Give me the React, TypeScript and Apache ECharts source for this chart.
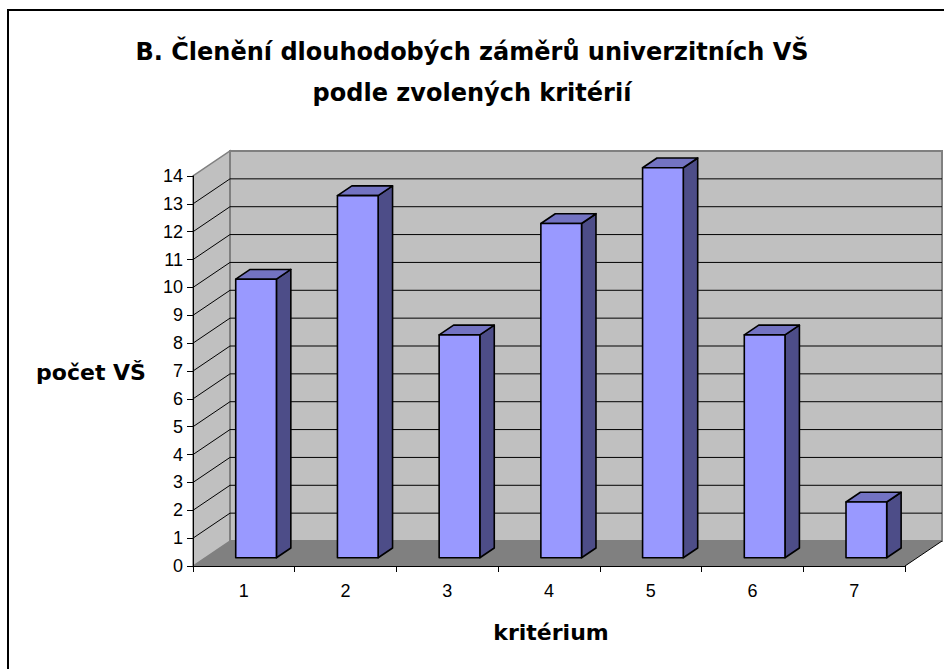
import React, { useEffect, useRef } from 'react';
import * as echarts from 'echarts';

// ---- data ----
const categories: string[] = ['1', '2', '3', '4', '5', '6', '7'];
const values: number[] = [10, 13, 8, 12, 14, 8, 2];
const yMin = 0;
const yMax = 14;
const yInterval = 1;
const wallGridValues: number[] = [1, 2, 3, 4, 5, 6, 7, 8, 9, 10, 11, 12, 13];
const titleLines: string[] = ['B. Členění dlouhodobých záměrů univerzitních VŠ', 'podle zvolených kritérií'];
const yAxisName = 'počet VŠ';
const xAxisName = 'kritérium';

// ---- 3D look ----
const DX = 37;
const DY = -25;
const BAR_F0 = 0.33;
const BAR_F1 = 0.72;
const BAR_W = 0.4;
const FONT = 'DejaVu Sans';
const TICK_FONT = 'Liberation Sans, Arial, sans-serif';

function renderWalls(params: any, api: any) {
  const bw = api.size([1, 0])[0];
  const p0 = api.coord([0, yMin]);
  const L = p0[0] - bw / 2;
  const y0 = p0[1];
  const R = api.coord([categories.length - 1, yMin])[0] + bw / 2;
  const yT = api.coord([0, yMax])[1];
  const children: any[] = [
    {
      type: 'polygon',
      shape: { points: [[L, y0], [L, yT], [L + DX, yT + DY], [L + DX, y0 + DY]] },
      style: { fill: '#c0c0c0', stroke: '#808080', lineWidth: 1.5 },
    },
    {
      type: 'rect',
      shape: { x: L + DX, y: yT + DY, width: R - L, height: y0 - yT },
      style: { fill: '#c0c0c0', stroke: '#808080', lineWidth: 2 },
    },
    {
      type: 'polygon',
      shape: { points: [[L, y0], [R, y0], [R + DX, y0 + DY], [L + DX, y0 + DY]] },
      style: { fill: '#808080' },
    },
  ];
  wallGridValues.forEach((v) => {
    const yv = api.coord([0, v])[1];
    children.push({
      type: 'polyline',
      shape: { points: [[L, yv], [L + DX, yv + DY], [R + DX, yv + DY]] },
      style: { stroke: '#000', lineWidth: 1, fill: 'none' },
    });
  });
  children.push({
    type: 'line',
    shape: { x1: R, y1: y0, x2: R + DX, y2: y0 + DY },
    style: { stroke: '#000', lineWidth: 1 },
  });
  return { type: 'group', children };
}

function renderBar(params: any, api: any) {
  const i = api.value(0);
  const v = api.value(1);
  const top = api.coord([i, v]);
  const base = api.coord([i, yMin]);
  const bw = api.size([1, 0])[0];
  const w = bw * BAR_W;
  const ox0 = DX * BAR_F0;
  const oy0 = DY * BAR_F0;
  const ddx = DX * (BAR_F1 - BAR_F0);
  const ddy = DY * (BAR_F1 - BAR_F0);
  const xl = top[0] - w / 2 + ox0;
  const xr = top[0] + w / 2 + ox0;
  const yt = top[1] + oy0;
  const yb = base[1] + oy0;
  const stroke = { stroke: '#000', lineWidth: 1.6, lineJoin: 'round' };
  return {
    type: 'group',
    children: [
      {
        type: 'polygon',
        shape: { points: [[xr, yt], [xr + ddx, yt + ddy], [xr + ddx, yb + ddy], [xr, yb]] },
        style: { fill: '#4d4d88', ...stroke },
      },
      {
        type: 'polygon',
        shape: { points: [[xl, yt], [xr, yt], [xr + ddx, yt + ddy], [xl + ddx, yt + ddy]] },
        style: { fill: '#7373c2', ...stroke },
      },
      {
        type: 'rect',
        shape: { x: xl, y: yt, width: w, height: yb - yt },
        style: { fill: '#9999ff', ...stroke },
      },
    ],
  };
}

export default function App() {
  const ref = useRef<HTMLDivElement>(null);
  useEffect(() => {
    if (!ref.current) return;
    const chart = echarts.init(ref.current, undefined, { renderer: 'svg' });
    const option: any = {
      animation: false,
      backgroundColor: '#ffffff',
      grid: { left: 193, right: 39, top: 176, bottom: 103, containLabel: false },
      xAxis: {
        type: 'category',
        data: categories,
        boundaryGap: true,
        z: 10,
        axisLine: { show: true, lineStyle: { color: '#000', width: 1 } },
        axisTick: { show: true, length: 6, lineStyle: { color: '#000', width: 1 } },
        axisLabel: { color: '#000', fontSize: 18, fontFamily: TICK_FONT, margin: 16 },
        splitLine: { show: false },
      },
      yAxis: {
        type: 'value',
        min: yMin,
        max: yMax,
        interval: yInterval,
        z: 10,
        axisLine: { show: true, lineStyle: { color: '#000', width: 1 } },
        axisTick: { show: true, length: 6, lineStyle: { color: '#000', width: 1 } },
        axisLabel: { color: '#000', fontSize: 18, fontFamily: TICK_FONT, margin: 10 },
        splitLine: { show: false },
      },
      series: [
        {
          type: 'custom',
          z: 1,
          clip: false,
          silent: true,
          renderItem: renderWalls,
          data: [[0, 0]],
          encode: { x: 0, y: 1 },
        },
        {
          type: 'custom',
          z: 3,
          clip: false,
          renderItem: renderBar,
          data: categories.map((c, i) => [i, values[i]]),
          encode: { x: 0, y: 1 },
        },
      ],
      graphic: [
        {
          type: 'rect',
          x: 8,
          y: 10,
          shape: { x: 0, y: 0, width: 1000, height: 1000 },
          style: { fill: 'none', stroke: '#000', lineWidth: 2 },
          z: 0,
        },
        ...titleLines.map((t, k) => ({
          type: 'text',
          x: 472,
          y: k === 0 ? 52 : 93,
          style: {
            text: t,
            fill: '#000',
            fontSize: 24,
            fontWeight: 'bold',
            fontFamily: FONT,
            align: 'center',
            verticalAlign: 'middle',
          },
        })),
        {
          type: 'text',
          x: 91,
          y: 372,
          style: {
            text: yAxisName,
            fill: '#000',
            fontSize: 22,
            fontWeight: 'bold',
            fontFamily: FONT,
            align: 'center',
            verticalAlign: 'middle',
          },
        },
        {
          type: 'text',
          x: 551,
          y: 632,
          style: {
            text: xAxisName,
            fill: '#000',
            fontSize: 22,
            fontWeight: 'bold',
            fontFamily: FONT,
            align: 'center',
            verticalAlign: 'middle',
          },
        },
      ],
    };
    chart.setOption(option);
    return () => chart.dispose();
  }, []);
  return (
    <div
      ref={ref}
      style={{ position: 'fixed', left: 0, top: 0, width: 944, height: 669 }}
    />
  );
}
